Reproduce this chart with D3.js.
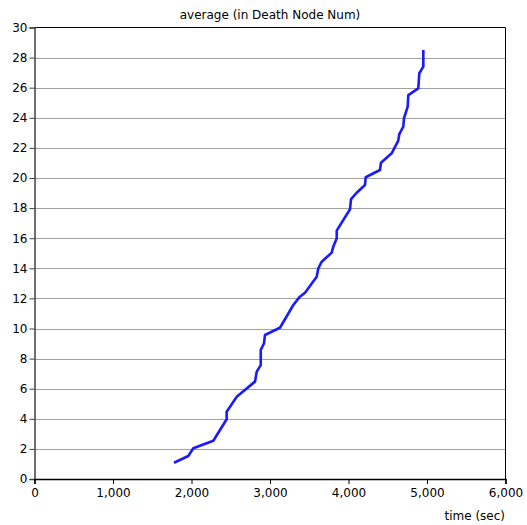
<!DOCTYPE html>
<html>
<head>
<meta charset="utf-8">
<script src="https://cdn.jsdelivr.net/npm/d3@7"></script>
<style>
  html, body { margin: 0; padding: 0; background: #fff; }
  svg { display: block; }
  text { font-family: "DejaVu Sans", Verdana, sans-serif; font-size: 12px; fill: #000; }
</style>
</head>
<body>
<svg id="chart" width="527" height="525"></svg>
<script>
// Average number of dead nodes over simulation time
const timeSec = [1777, 1959, 2023, 2278, 2448, 2448, 2576, 2809, 2831, 2882, 2882, 2924, 2936,
  3127, 3297, 3373, 3446, 3595, 3615, 3659, 3786, 3806, 3850, 3850, 4019, 4032, 4104, 4210,
  4219, 4401, 4414, 4550, 4634, 4647, 4698, 4707, 4754, 4762, 4889, 4902, 4953, 4953];
const deadNodes = [1.08, 1.53, 2.04, 2.54, 3.97, 4.47, 5.47, 6.47, 7.13, 7.57, 8.57, 9.02, 9.57,
  10.05, 11.56, 12.07, 12.38, 13.44, 14.0, 14.44, 15.04, 15.44, 15.99, 16.5, 17.92, 18.6, 19.02, 19.53,
  20.05, 20.53, 21.02, 21.64, 22.48, 22.92, 23.41, 23.97, 24.74, 25.51, 25.96, 26.96, 27.4, 28.5];
const xTicks = [0, 1000, 2000, 3000, 4000, 5000, 6000];
const yTicks = [0, 2, 4, 6, 8, 10, 12, 14, 16, 18, 20, 22, 24, 26, 28, 30];

const titleText = "average (in Death Node Num)";
const xTitle = "time (sec)";

const svg = d3.select("#chart");
const plotLeft = 34.5, plotRight = 505.5, plotTop = 27.5, plotBottom = 479;

const x = d3.scaleLinear().domain([0, 6000]).range([plotLeft, plotRight]);
const y = d3.scaleLinear().domain([0, 30]).range([plotBottom, plotTop]);

// horizontal grid lines
svg.append("g")
  .selectAll("line")
  .data(yTicks.filter(v => v > 0 && v < 30))
  .join("line")
  .attr("x1", plotLeft).attr("x2", plotRight)
  .attr("y1", d => Math.round(y(d)) + 0.5).attr("y2", d => Math.round(y(d)) + 0.5)
  .attr("stroke", "#a0a0a0").attr("stroke-width", 1);

// frame: top and right edges
svg.append("line").attr("x1", plotLeft).attr("x2", plotRight).attr("y1", plotTop).attr("y2", plotTop)
  .attr("stroke", "#000");
svg.append("line").attr("x1", plotRight).attr("x2", plotRight).attr("y1", plotTop).attr("y2", plotBottom)
  .attr("stroke", "#000");

// y axis
const yAxis = d3.axisLeft(y).tickValues(yTicks).tickSize(5).tickPadding(2)
  .tickFormat(d3.format("d"));
const gy = svg.append("g").attr("transform", `translate(${plotLeft},0)`).call(yAxis);
gy.select(".domain").attr("stroke", "#404040").attr("stroke-width", 1.5);
gy.selectAll(".tick line").attr("stroke", "#404040");
gy.selectAll("text").style("font-family", "'DejaVu Sans', Verdana, sans-serif")
  .style("font-size", "12px").attr("fill", "#000");

// x axis
const xAxis = d3.axisBottom(x).tickValues(xTicks).tickSize(5).tickPadding(4)
  .tickFormat(d3.format(","));
const gx = svg.append("g").attr("transform", `translate(0,${plotBottom})`).call(xAxis);
gx.select(".domain").attr("stroke", "#000").attr("stroke-width", 1.5);
gx.selectAll(".tick line").attr("stroke", "#000");
gx.selectAll("text").style("font-family", "'DejaVu Sans', Verdana, sans-serif")
  .style("font-size", "12px").attr("fill", "#000");

// data line
const line = d3.line().x((d, i) => x(timeSec[i])).y(d => y(d));
svg.append("path")
  .datum(deadNodes)
  .attr("d", line)
  .attr("fill", "none")
  .attr("stroke", "#1a1aff")
  .attr("stroke-width", 2.6)
  .attr("stroke-linejoin", "round")
  .attr("stroke-linecap", "butt");

// titles
svg.append("text").attr("x", (plotLeft + plotRight) / 2).attr("y", 19)
  .attr("text-anchor", "middle").text(titleText);
svg.append("text").attr("x", 505).attr("y", 520)
  .attr("text-anchor", "end").text(xTitle);
</script>
</body>
</html>
